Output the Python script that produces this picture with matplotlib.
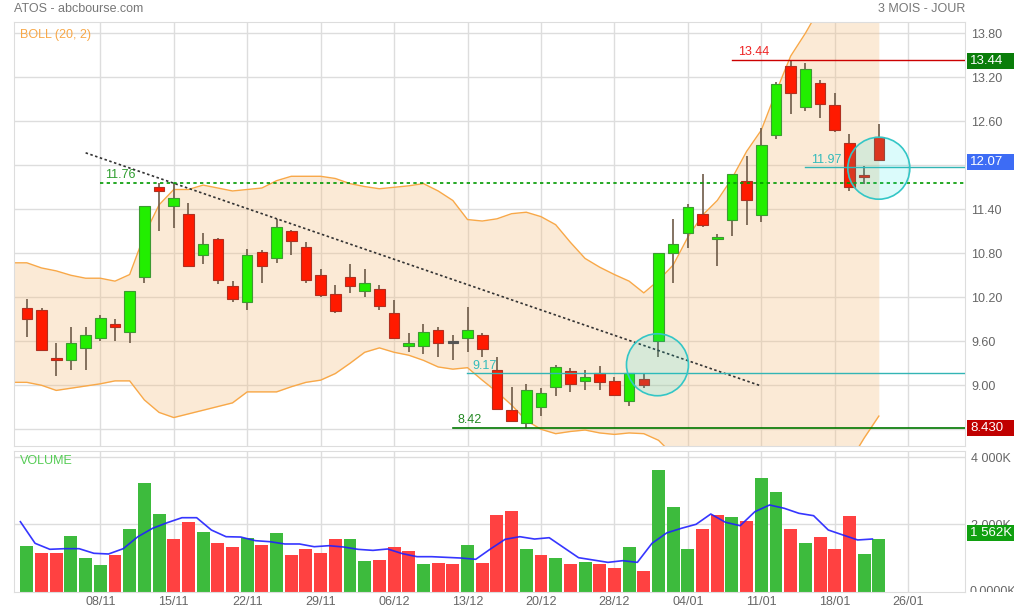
import matplotlib
matplotlib.use("Agg")
import matplotlib.pyplot as plt
import numpy as np
from matplotlib.patches import Rectangle, Ellipse
from matplotlib.transforms import Bbox, TransformedBbox, IdentityTransform

plt.rcParams['font.family'] = ['Liberation Sans', 'DejaVu Sans']

# daily candles, index 0 = 01/11
opens = [10.06, 10.02, 9.35, 9.35, 9.51, 9.64, 9.81, 9.72, 10.48, 11.71,
         11.45, 11.34, 10.77, 11.00, 10.35, 10.13, 10.82, 10.74, 11.10, 10.89,
         10.50, 10.25, 10.47, 10.29, 10.31, 9.98, 9.54, 9.54, 9.75, 9.57,
         9.65, 9.68, 9.21, 8.66, 8.48, 8.71, 8.98, 9.20, 9.06, 9.17,
         9.06, 8.79, 9.09, 9.61, 10.81, 11.07, 11.34, 10.99, 11.26, 11.78,
         11.32, 12.41, 13.35, 12.80, 13.12, 12.82, 12.30, 11.86, 12.39]
highs = [10.17, 10.06, 9.58, 9.79, 9.80, 9.96, 9.91, 10.28, 11.45, 11.76,
         11.76, 11.48, 11.08, 11.01, 10.42, 10.86, 10.85, 11.27, 11.12, 10.96,
         10.59, 10.37, 10.65, 10.59, 10.37, 10.16, 9.71, 9.83, 9.80, 9.68,
         10.07, 9.71, 9.38, 8.97, 9.02, 8.96, 9.27, 9.24, 9.21, 9.26,
         9.11, 9.17, 9.16, 10.81, 11.27, 11.47, 11.88, 11.06, 11.88, 12.12,
         12.51, 13.14, 13.44, 13.40, 13.16, 12.99, 12.42, 11.99, 12.56]
lows = [9.66, 9.47, 9.13, 9.21, 9.21, 9.61, 9.61, 9.57, 10.40, 11.11,
        11.15, 10.61, 10.65, 10.38, 10.13, 10.03, 10.40, 10.67, 10.78, 10.40,
        10.21, 9.99, 10.26, 10.21, 10.03, 9.65, 9.45, 9.42, 9.38, 9.34,
        9.46, 9.39, 8.68, 8.51, 8.42, 8.58, 8.86, 8.91, 8.93, 8.94,
        8.87, 8.72, 8.96, 9.39, 10.40, 10.87, 11.16, 10.63, 11.04, 11.19,
        11.22, 12.36, 12.70, 12.74, 12.65, 12.46, 11.65, 11.74, 12.07]
closes = [9.91, 9.48, 9.34, 9.57, 9.69, 9.92, 9.80, 10.28, 11.44, 11.65,
          11.55, 10.63, 10.93, 10.44, 10.18, 10.78, 10.63, 11.16, 10.97, 10.44,
          10.23, 10.01, 10.36, 10.39, 10.08, 9.65, 9.58, 9.72, 9.58, 9.57,
          9.75, 9.50, 8.68, 8.51, 8.94, 8.90, 9.25, 9.02, 9.11, 9.05,
          8.87, 9.17, 9.01, 10.81, 10.92, 11.43, 11.19, 11.01, 11.88, 11.53,
          12.27, 13.11, 12.99, 13.31, 12.84, 12.48, 11.71, 11.84, 12.07]
prev_close = 9.80

# volume in thousands
volumes = [1360, 1143, 1143, 1649, 1003, 795, 1083, 1857, 3235, 2303,
           1577, 2074, 1777, 1440, 1321, 1589, 1390, 1738, 1092, 1271,
           1143, 1577, 1559, 905, 952, 1330, 1202, 824, 854, 833,
           1399, 854, 2283, 2402, 1271, 1092, 994, 833, 884, 833,
           714, 1321, 607, 3622, 2530, 1280, 1875, 2274, 2232, 2095,
           3393, 2958, 1857, 1449, 1637, 1271, 2262, 1113, 1562]
vol_avg = [2083, 1440, 1262, 1280, 1280, 1143, 1122, 1280, 1637, 1887,
           2054, 2202, 2202, 1836, 1637, 1627, 1518, 1488, 1420, 1420,
           1339, 1369, 1330, 1260, 1230, 1271, 1133, 1042, 1042, 1022,
           1002, 964, 1271, 1559, 1637, 1567, 1607, 1309, 1012, 943,
           873, 923, 873, 1440, 1750, 1887, 2006, 2312, 2065, 1964,
           2381, 2580, 2482, 2333, 2262, 1836, 1687, 1539, 1568]

# Bollinger (20, 2), index -1 .. 58
boll_upper = [10.67, 10.67, 10.60, 10.56, 10.50, 10.46, 10.46, 10.42, 10.51, 11.05,
              11.46, 11.67, 11.67, 11.73, 11.69, 11.65, 11.67, 11.69, 11.79, 11.85,
              11.85, 11.85, 11.82, 11.75, 11.71, 11.68, 11.70, 11.72, 11.75, 11.65,
              11.52, 11.26, 11.24, 11.27, 11.34, 11.36, 11.30, 11.19, 10.95, 10.73,
              10.61, 10.51, 10.42, 10.26, 10.43, 10.64, 11.02, 11.32, 11.52, 11.82,
              12.19, 12.48, 13.00, 13.49, 13.80, 14.15, 14.40, 14.55, 14.60, 14.60]
boll_lower = [9.04, 9.04, 9.00, 8.93, 8.96, 8.99, 9.02, 9.06, 9.06, 8.80,
              8.63, 8.56, 8.61, 8.66, 8.71, 8.76, 8.91, 8.91, 8.91, 8.98,
              9.04, 9.07, 9.16, 9.30, 9.45, 9.51, 9.45, 9.41, 9.34, 9.25,
              9.22, 9.24, 9.07, 8.91, 8.73, 8.52, 8.40, 8.34, 8.37, 8.39,
              8.35, 8.33, 8.35, 8.34, 8.25, 8.05, 7.90, 7.70, 7.50, 7.30,
              7.10, 6.95, 6.85, 6.80, 6.85, 7.00, 7.50, 7.95, 8.28, 8.58]

tick_pos = [5, 10, 15, 20, 25, 30, 35, 40, 45, 50, 55, 60]
tick_labels = ['08/11', '15/11', '22/11', '29/11', '06/12', '13/12',
               '20/12', '28/12', '04/01', '11/01', '18/01', '26/01']
price_ticks = [8.40, 9.00, 9.60, 10.20, 10.80, 11.40, 12.00, 12.60, 13.20, 13.80]
hidden_ticks = [8.40, 12.00]   # covered by the value boxes
vol_ticks = [2000, 4000]
vol_tick_labels = ['2 000K', '4 000K']

# drawn levels
resist = 13.44
support = 8.42
high_mark = 11.76
cyan_a = 9.17
cyan_b = 11.97
trend_x = [4, 50]
trend_y = [12.17, 8.99]

W, H = 1014, 614
fig = plt.figure(figsize=(W / 100, H / 100), dpi=100)
grid_c = '#dddddd'
txt_c = '#666666'

def px_axes(x0, y0, x1, y1):
    return fig.add_axes([x0 / W, (H - y1) / H, (x1 - x0) / W, (y1 - y0) / H])

ax = px_axes(14, 22.3, 965.5, 446)
axv = px_axes(14, 450.7, 965.5, 591.7)

n = len(closes)
idx = np.arange(n)
xlim = (-0.875, 63.9)

for a in (ax, axv):
    a.set_xlim(*xlim)
    a.set_axisbelow(True)
    a.grid(True, color=grid_c, lw=1)
    for s in a.spines.values():
        s.set_color(grid_c)
    a.set_xticks(tick_pos)
    a.yaxis.tick_right()
    a.tick_params(length=0, colors=txt_c, labelsize=9)

ax.set_ylim(8.172, 13.95)
ax.set_yticks(price_ticks)
ax.set_yticklabels(['' if v in hidden_ticks else '%.2f' % v for v in price_ticks])
ax.tick_params(axis='y', pad=4)
ax.set_xticklabels([])

# bollinger band
bx = np.arange(-1, n)
ax.fill_between(bx, boll_lower, boll_upper, color='#f5bc7a', alpha=0.3, lw=0, zorder=1)
ax.plot(bx, boll_upper, color='#f8a848', lw=1, zorder=1.5)
ax.plot(bx, boll_lower, color='#f8a848', lw=1, zorder=1.5)

# candles
for i in idx:
    o, h, l, c = opens[i], highs[i], lows[i], closes[i]
    ax.vlines(i, l, h, color='#6e5a48', lw=1.2, zorder=2)
    if c > o:
        fc, ec = '#22ee00', '#3c9a32'
    elif c < o:
        fc, ec = '#ff1a00', '#b03020'
    else:
        fc, ec = '#555555', '#555555'
    bot = min(o, c)
    hgt = max(abs(c - o), 0.03)
    ax.add_patch(Rectangle((i - 0.36, bot), 0.72, hgt, facecolor=fc,
                           edgecolor=ec, lw=0.8, zorder=3))

# trend and level lines
ax.plot(trend_x, trend_y, color='#333333', lw=1.2, ls=(0, (1.5, 1.5)), zorder=4)
ax.plot([4.95, xlim[1]], [high_mark] * 2, color='#009900', lw=1.2, ls=(0, (2, 2)), zorder=4)
ax.plot([48.0, xlim[1]], [resist] * 2, color='#cc0000', lw=1, zorder=4)
ax.plot([52.97, xlim[1]], [cyan_b] * 2, color='#33b5b5', lw=1, zorder=4)
ax.plot([29.96, xlim[1]], [cyan_a] * 2, color='#33b5b5', lw=1, zorder=4)
ax.plot([29.0, xlim[1]], [support] * 2, color='#007700', lw=1.2, zorder=4)

ax.text(5.3, high_mark + 0.02, '%.2f' % high_mark, color='#2e9e2e', fontsize=9, va='bottom')
ax.text(48.4, resist + 0.02, '%.2f' % resist, color='#ee2222', fontsize=9, va='bottom')
ax.text(53.4, cyan_b + 0.02, '%.2f' % cyan_b, color='#33bbbb', fontsize=9, va='bottom')
ax.text(30.3, cyan_a + 0.01, '%.2f' % cyan_a, color='#33bbbb', fontsize=9, va='bottom')
ax.text(29.3, support + 0.02, '%.2f' % support, color='#228822', fontsize=9, va='bottom')

for cx, cy in [(42.93, 9.28), (58.0, 11.96)]:
    ax.add_patch(Ellipse((cx, cy), 4.22, 0.845, facecolor=(0, 0.9, 0.9, 0.14),
                         edgecolor='#33c6c6', lw=1.2, zorder=5))

ax.text(0.006, 0.985, 'BOLL (20, 2)', transform=ax.transAxes, color='#f8a848',
        fontsize=9, va='top')

# volume
closes_prev = np.concatenate([[prev_close], closes[:-1]])
vcol = ['#3dbb3d' if c >= p else '#ff4141' for c, p in zip(closes, closes_prev)]
axv.bar(idx, volumes, width=0.88, color=vcol, zorder=2)
axv.plot(idx - 0.44, vol_avg, color='#2020ff', lw=1.2, alpha=0.9, zorder=3)
axv.set_ylim(0, 4196)
axv.set_yticks(vol_ticks)
axv.set_yticklabels(vol_tick_labels)
axv.tick_params(axis='y', pad=4)
axv.set_xticklabels(tick_labels)
axv.tick_params(axis='x', pad=3)
axv.text(0.006, 0.97, 'VOLUME', transform=axv.transAxes, color='#55cc55',
         fontsize=9, va='top')

# zero label, cut by the panel bottom
_, y0 = axv.transData.transform((0, 0))
zt = fig.text(970, y0, '0.0000K', transform=IdentityTransform(), color=txt_c,
              fontsize=9, va='center')
zt.set_clip_box(TransformedBbox(Bbox([[0, y0], [W, H]]), IdentityTransform()))
zt.set_clip_on(True)

# header
fig.text(14 / W, (H - 9) / H, 'ATOS - abcbourse.com', color='#777777', fontsize=9, va='center')
fig.text(965 / W, (H - 9) / H, '3 MOIS - JOUR', color='#777777', fontsize=9,
         va='center', ha='right')

# value boxes on the right
def right_box(a, value, text, color, shift=0):
    _, yp = a.transData.transform((0, value))
    yp += shift
    fig.patches.append(Rectangle((967, yp - 8), 47, 16, transform=IdentityTransform(),
                                 facecolor=color, edgecolor='none', zorder=2))
    fig.text(970, yp, text, transform=IdentityTransform(), color='white',
             fontsize=9.5, va='center', zorder=3)

right_box(ax, resist, '%.2f' % resist, '#0a7d0a', -1.3)
right_box(ax, closes[-1], '%.2f' % closes[-1], '#3d6cf5', -1.6)
right_box(ax, 8.43, '%.3f' % 8.43, '#c00000', -1.1)
right_box(axv, volumes[-1], '1 %03dK' % (volumes[-1] - 1000), '#10a010', 6)

fig.savefig('out.png', dpi=100)
